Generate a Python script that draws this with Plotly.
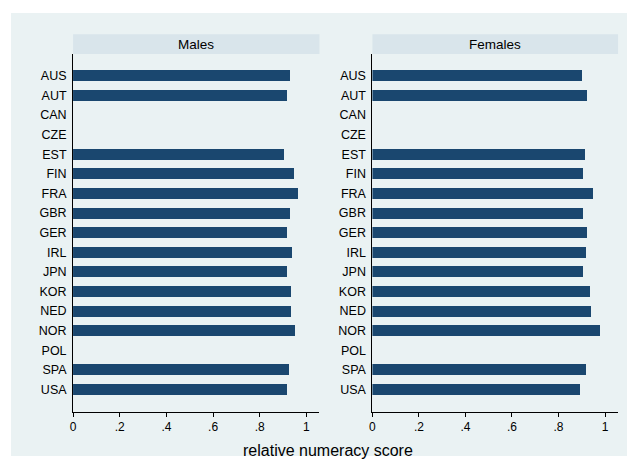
import plotly.graph_objects as go

countries = ["AUS", "AUT", "CAN", "CZE", "EST", "FIN", "FRA", "GBR", "GER",
             "IRL", "JPN", "KOR", "NED", "NOR", "POL", "SPA", "USA"]
males = [0.928, 0.917, None, None, 0.905, 0.946, 0.965, 0.932, 0.915,
         0.939, 0.919, 0.934, 0.936, 0.952, None, 0.924, 0.915]
females = [0.901, 0.926, None, None, 0.916, 0.906, 0.949, 0.906, 0.925,
           0.919, 0.909, 0.938, 0.941, 0.979, None, 0.922, 0.895]
panel_titles = ["Males", "Females"]
x_tickvals = [0, 0.2, 0.4, 0.6, 0.8, 1.0]
x_ticktext = ["0", ".2", ".4", ".6", ".8", "1"]
x_title = "relative numeracy score"

W, H = 627, 463
BAR = "#1a476f"
BG = "#eaf2f3"
STRIP = "#d9e5eb"
FONT = "Liberation Sans, Arial, sans-serif"

def px(x):
    return x / W

def py(y):
    return 1 - y / H

fig = go.Figure()
fig.add_trace(go.Bar(x=males, y=countries, orientation="h", marker_color=BAR,
                     marker_line_width=0, width=0.56, xaxis="x", yaxis="y",
                     showlegend=False))
fig.add_trace(go.Bar(x=females, y=countries, orientation="h", marker_color=BAR,
                     marker_line_width=0, width=0.56, xaxis="x2", yaxis="y2",
                     showlegend=False))

plot_top, plot_bot = 54, 411.5
panels = [(70.4, 318.0), (371.2, 618.0)]
yrange = [len(countries) - 1 + 1.12, -1.11]

common_x = dict(range=[0, 1.056], tickvals=x_tickvals, ticktext=x_ticktext,
                showgrid=True, gridcolor=BG, gridwidth=1, zeroline=False,
                showline=True, linecolor="black", linewidth=1,
                ticks="outside", ticklen=4, tickcolor="black",
                tickfont=dict(family=FONT, size=12, color="black"))
common_y = dict(range=yrange, type="category", showgrid=False, zeroline=False,
                showline=True, linecolor="black", linewidth=1,
                ticks="outside", ticklen=3, tickcolor="rgba(0,0,0,0)",
                tickfont=dict(family=FONT, size=12.5, color="black"),
                domain=[py(plot_bot), py(plot_top)])

fig.update_layout(
    width=W, height=H,
    margin=dict(l=0, r=0, t=0, b=0),
    paper_bgcolor="white", plot_bgcolor="white",
    bargap=0,
    xaxis=dict(domain=[px(panels[0][0]), px(panels[0][1])], anchor="y", **common_x),
    xaxis2=dict(domain=[px(panels[1][0]), px(panels[1][1])], anchor="y2", **common_x),
    yaxis=dict(anchor="x", **common_y),
    yaxis2=dict(anchor="x2", **common_y),
    font=dict(family=FONT),
)

shapes = [dict(type="rect", xref="paper", yref="paper", layer="below",
               x0=px(8), x1=px(627), y0=py(456), y1=py(13),
               fillcolor=BG, line_width=0)]
annotations = []
for (x0, x1), title in zip(panels, panel_titles):
    shapes.append(dict(type="rect", xref="paper", yref="paper", layer="below",
                       x0=px(x0), x1=px(x1), y0=py(54), y1=py(34.3),
                       fillcolor=STRIP, line_width=0))
    annotations.append(dict(text=title, xref="paper", yref="paper",
                            x=px((x0 + x1) / 2), y=py(44.2), showarrow=False,
                            xanchor="center", yanchor="middle",
                            font=dict(family=FONT, size=13.5, color="black")))
annotations.append(dict(text=x_title, xref="paper", yref="paper",
                        x=px(326.8), y=py(450), showarrow=False,
                        xanchor="center", yanchor="middle",
                        font=dict(family=FONT, size=16, color="black")))
fig.update_layout(shapes=shapes, annotations=annotations)

fig.write_html("out.html",
               config={"displayModeBar": False},
               post_script="document.body.style.margin='0';"
                           "document.body.style.padding='0';"
                           "document.body.style.overflow='hidden';")
